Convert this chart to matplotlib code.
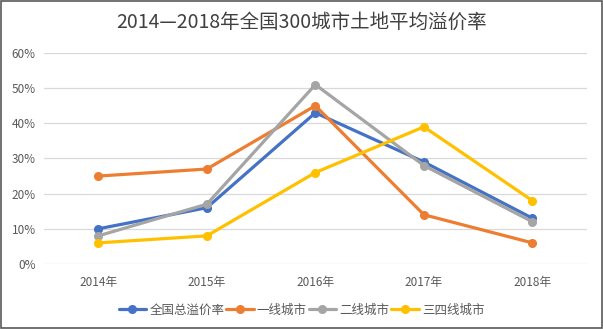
import matplotlib
matplotlib.use("Agg")
import matplotlib.pyplot as plt
from matplotlib.patches import Rectangle
from matplotlib.ticker import FuncFormatter

plt.rcParams['font.family'] = ['Noto Sans CJK SC', 'DejaVu Sans']

years = ["2014年", "2015年", "2016年", "2017年", "2018年"]
national = [10, 16, 43, 29, 13]
tier1 = [25, 27, 45, 14, 6]
tier2 = [8, 17, 51, 28, 12]
tier34 = [6, 8, 26, 39, 18]

series = [
    ("全国总溢价率", national, "#4472C4"),
    ("一线城市", tier1, "#ED7D31"),
    ("二线城市", tier2, "#A5A5A5"),
    ("三四线城市", tier34, "#FFC000"),
]

text_color = "#595959"

fig = plt.figure(figsize=(6.03, 3.29), dpi=100)
ax = fig.add_axes([0.073, 0.1976, 0.9, 0.6414])

x = list(range(len(years)))
for name, vals, color in series:
    ax.plot(x, [v / 100 for v in vals], color=color, lw=2.3, marker="o",
            markersize=5.5, label=name, solid_capstyle="round", zorder=3)

ax.set_xlim(-0.5, len(years) - 0.5)
ax.set_ylim(0, 0.6)
ax.set_yticks([i / 10 for i in range(7)])
ax.yaxis.set_major_formatter(FuncFormatter(lambda v, p: f"{v * 100:.0f}%"))
ax.set_xticks(x)
ax.set_xticklabels(years)
ax.grid(axis="y", color="#D9D9D9", lw=0.9, zorder=0)
ax.tick_params(length=0, colors=text_color, labelsize=8.5)
ax.tick_params(axis="x", pad=9)
ax.tick_params(axis="y", pad=6)
for s in ax.spines.values():
    s.set_visible(False)

fig.text(0.5, 0.932, "2014—2018年全国300城市土地平均溢价率", ha="center", va="center",
         fontsize=14, color="#404040")

fig.legend(loc="center", bbox_to_anchor=(0.5, 0.057), ncol=4, frameon=False,
           fontsize=9, handlelength=2.2, columnspacing=0.15, handletextpad=0.25,
           labelcolor=text_color)

fig.patches.append(Rectangle((0.001, 0.002), 0.997, 0.995, transform=fig.transFigure,
                             fill=False, edgecolor="#595959", lw=1.2))

fig.savefig("out.png", dpi=100, facecolor="white")
